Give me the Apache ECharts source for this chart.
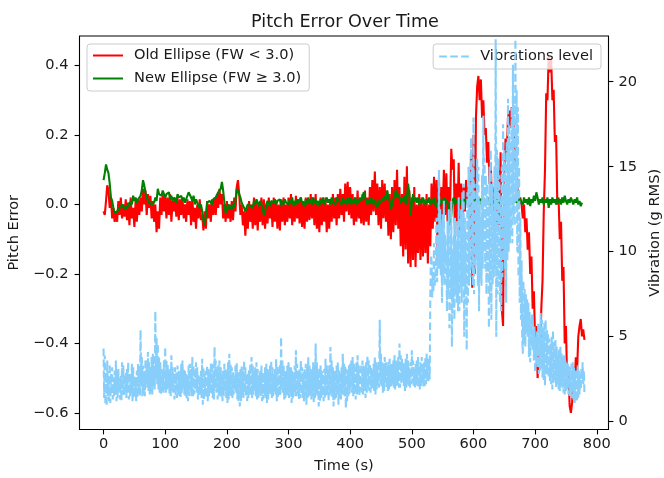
<!DOCTYPE html>
<html>
<head>
<meta charset="utf-8">
<script src="https://cdn.jsdelivr.net/npm/echarts@6/dist/echarts.min.js"></script>
<style>
  html, body { margin: 0; padding: 0; background: #ffffff; }
  #chart { width: 664px; height: 478px; }
</style>
</head>
<body>
<div id="chart"></div>
<script>
// Sampling intervals of the logged traces, in seconds
const PITCH_STEP = 2;
const VIBRATION_STEP = 1;

// Pitch error, old ellipse fit (FW < 3.0), one value every PITCH_STEP seconds from t = 0
const oldEllipse = [
  -0.02, -0.03, 0.01, 0.055, 0.04, -0.01, 0.02, -0.04, -0.01, -0.05,        // 0 s
  -0.02, -0.05, 0.01, -0.03, 0.02, -0.04, 0.0, -0.035, 0.015, -0.045,       // 20 s
  0.0, -0.06, 0.02, -0.04, -0.01, -0.065, 0.01, -0.05, 0.015, -0.03,        // 40 s
  0.02, -0.02, 0.045, 0.0, 0.04, -0.03, 0.03, -0.01, 0.025, -0.04,          // 60 s
  0.01, -0.05, 0.0, -0.08, -0.02, -0.07, 0.02, -0.03, 0.03, -0.02,          // 80 s
  0.025, -0.04, 0.02, -0.03, 0.03, -0.05, 0.01, -0.02, 0.02, -0.035,        // 100 s
  0.02, -0.045, 0.015, -0.03, 0.02, -0.04, 0.0, -0.05, 0.015, -0.03,        // 120 s
  0.01, -0.06, 0.02, -0.05, -0.01, -0.07, 0.0, -0.04, 0.015, -0.045,        // 140 s
  -0.03, -0.075, -0.02, -0.07, 0.01, -0.04, 0.0, -0.05, 0.015, -0.03,       // 160 s
  0.02, -0.03, 0.03, -0.01, 0.045, 0.0, 0.03, -0.04, 0.0, -0.05,            // 180 s
  0.01, -0.04, 0.0, -0.05, 0.01, -0.045, 0.02, -0.02, 0.05, 0.07,           // 200 s
  0.03, -0.03, 0.0, -0.06, -0.02, -0.09, -0.01, -0.07, 0.01, -0.05,         // 220 s
  0.0, -0.07, 0.02, -0.06, 0.01, -0.075, 0.0, -0.05, 0.02, -0.06,           // 240 s
  0.015, -0.07, 0.0, -0.055, 0.02, -0.04, 0.01, -0.065, 0.02, -0.05,        // 260 s
  0.01, -0.07, 0.0, -0.075, 0.015, -0.05, 0.02, -0.06, 0.0, -0.05,          // 280 s
  0.02, -0.04, 0.03, -0.06, 0.01, -0.05, 0.025, -0.04, 0.015, -0.055,       // 300 s
  0.02, -0.065, 0.01, -0.07, 0.02, -0.05, 0.015, -0.045, 0.03, -0.04,       // 320 s
  0.02, -0.06, 0.03, -0.07, 0.0, -0.08, 0.02, -0.06, 0.01, -0.05,           // 340 s
  0.02, -0.08, 0.0, -0.07, 0.015, -0.05, 0.03, -0.04, 0.02, -0.06,          // 360 s
  0.03, -0.04, 0.045, -0.03, 0.03, -0.05, 0.06, -0.02, 0.065, -0.03,        // 380 s
  0.05, -0.04, 0.03, -0.06, 0.02, -0.05, 0.04, -0.04, 0.01, -0.055,         // 400 s
  0.03, -0.06, 0.04, -0.05, 0.02, -0.06, 0.05, -0.03, 0.07, -0.02,          // 420 s
  0.095, -0.03, 0.06, -0.06, 0.05, -0.07, 0.07, -0.04, 0.06, -0.05,         // 440 s
  0.04, -0.09, 0.03, -0.1, 0.05, -0.08, 0.07, -0.06, 0.1, -0.07,            // 460 s
  0.05, -0.12, 0.03, -0.15, 0.08, -0.13, 0.11, -0.17, 0.04, -0.18,          // 480 s
  0.02, -0.16, 0.05, -0.18, 0.0, -0.14, 0.03, -0.16, 0.02, -0.15,           // 500 s
  0.01, -0.14, 0.03, -0.17, 0.0, -0.12, 0.06, -0.07, 0.08, -0.05,           // 520 s
  0.07, -0.17, 0.08, -0.1, 0.05, -0.04, 0.1, -0.03, 0.09, -0.05,            // 540 s
  0.05, -0.02, 0.16, 0.1, 0.13, -0.1, 0.06, -0.05, 0.12, -0.08,             // 560 s
  0.06, -0.06, 0.05, -0.02, 0.07, 0.0, 0.05, -0.1, 0.15, -0.24,             // 580 s
  0.2, -0.2, 0.25, 0.34, 0.37, 0.3, 0.36, 0.25, 0.3, 0.2,                   // 600 s
  0.22, 0.12, 0.18, 0.06, 0.12, 0.0, 0.05, -0.05, 0.02, -0.07,              // 620 s
  0.1, -0.06, 0.15, -0.3, -0.35, 0.1, 0.19, 0.15, 0.25, 0.27,               // 640 s
  0.22, 0.28, 0.26, 0.2, 0.12, 0.1, 0.03, 0.0, 0.02, 0.0,                   // 660 s
  -0.04, 0.0, -0.08, -0.04, -0.13, -0.08, -0.2, -0.15, -0.3, -0.25,         // 680 s
  -0.4, -0.35, -0.5, -0.42, -0.45, -0.3, -0.22, -0.02, 0.1, 0.32,           // 700 s
  0.3, 0.43, 0.38, 0.42, 0.3, 0.33, 0.18, 0.2, 0.0, 0.02,                   // 720 s
  -0.1, -0.05, -0.22, -0.18, -0.4, -0.35, -0.52, -0.48, -0.58, -0.6,        // 740 s
  -0.57, -0.5, -0.52, -0.44, -0.48, -0.38, -0.35, -0.33, -0.38, -0.36,      // 760 s
  -0.39                                                                      // 780 s
];

// Pitch error, new ellipse fit (FW >= 3.0)
const newEllipse = [
  0.07, 0.09, 0.115, 0.1, 0.09, 0.06, 0.02, 0.01, -0.01, -0.025,            // 0 s
  -0.03, -0.02, -0.025, -0.01, -0.015, 0.0, -0.005, -0.015, -0.005, -0.015, // 20 s
  0.005, -0.005, 0.01, 0.0, 0.025, 0.01, 0.02, 0.005, 0.015, 0.01,          // 40 s
  0.025, 0.04, 0.07, 0.055, 0.035, 0.02, 0.015, 0.005, 0.01, 0.0,           // 60 s
  -0.005, 0.005, 0.02, 0.01, 0.045, 0.03, 0.035, 0.025, 0.04, 0.03,         // 80 s
  0.02, 0.03, 0.025, 0.035, 0.015, 0.025, 0.01, 0.02, 0.015, 0.005,         // 100 s
  0.03, 0.02, 0.015, 0.025, 0.01, 0.02, 0.005, 0.015, 0.025, 0.035,         // 120 s
  0.03, 0.02, 0.01, 0.025, 0.0, 0.015, 0.005, 0.01, -0.01, 0.0,             // 140 s
  -0.02, -0.045, -0.06, -0.03, 0.005, 0.0, 0.01, 0.005, 0.0, 0.015,         // 160 s
  0.01, 0.02, 0.025, 0.035, 0.03, 0.045, 0.065, 0.04, 0.005, -0.025,        // 180 s
  -0.01, 0.0, -0.015, -0.005, -0.015, 0.0, -0.01, 0.01, 0.045, 0.05,        // 200 s
  0.03, 0.02, 0.005, 0.0, -0.01, -0.02, -0.015, 0.0, 0.005, -0.005,         // 220 s
  0.0, -0.01, 0.01, 0.0, 0.015, 0.005, -0.005, 0.01, 0.0, -0.01,            // 240 s
  -0.03, -0.02, 0.0, 0.01, 0.005, -0.005, 0.01, 0.015, 0.005, 0.015,        // 260 s
  0.0, 0.01, 0.005, 0.015, -0.005, 0.01, 0.0, 0.015, 0.005, 0.01,           // 280 s
  0.0, 0.015, 0.005, 0.02, -0.005, 0.01, 0.0, 0.015, 0.005, 0.01,           // 300 s
  0.02, 0.005, 0.01, -0.005, 0.015, 0.0, 0.02, 0.005, 0.015, 0.0,           // 320 s
  0.02, 0.005, 0.015, 0.0, 0.01, -0.005, 0.015, 0.005, 0.02, 0.0,           // 340 s
  0.01, 0.02, 0.005, 0.015, 0.0, 0.02, 0.005, 0.01, 0.0, 0.02,              // 360 s
  0.025, 0.01, 0.015, 0.0, 0.02, 0.005, 0.015, 0.0, 0.02, 0.005,            // 380 s
  0.02, 0.0, 0.015, 0.005, 0.02, 0.0, 0.015, 0.005, 0.02, 0.01,             // 400 s
  0.015, 0.035, 0.02, 0.01, 0.0, 0.015, 0.005, 0.02, 0.01, 0.0,             // 420 s
  0.015, 0.0, -0.01, 0.01, 0.015, 0.005, 0.02, 0.01, 0.025, 0.015,          // 440 s
  0.04, 0.02, 0.01, -0.015, 0.0, 0.015, 0.01, 0.04, 0.02, 0.03,             // 460 s
  0.02, 0.005, 0.02, 0.01, 0.025, 0.0, 0.015, 0.06, 0.03, -0.03,            // 480 s
  0.0, 0.03, 0.01, 0.02, 0.005, 0.02, 0.0, 0.015, 0.005, 0.02,              // 500 s
  0.01, 0.0, 0.015, 0.005, 0.02, 0.0, 0.015, 0.005, 0.02, 0.0,              // 520 s
  -0.01, 0.01, 0.02, 0.0, 0.015, 0.005, 0.02, 0.0, 0.015, 0.005,            // 540 s
  -0.02, -0.06, -0.03, 0.01, 0.02, 0.0, 0.015, 0.005, 0.02, 0.0,            // 560 s
  0.015, 0.005, 0.02, 0.0, 0.015, 0.005, 0.02, 0.0, 0.015, 0.01,            // 580 s
  0.02, -0.01, 0.015, 0.005, 0.02, 0.0, 0.015, 0.01, 0.02, 0.0,             // 600 s
  0.015, 0.005, 0.02, 0.01, 0.0, 0.015, 0.005, 0.02, 0.0, 0.015,            // 620 s
  0.005, 0.02, 0.0, 0.015, 0.01, 0.02, 0.0, 0.015, 0.005, 0.02,             // 640 s
  0.01, 0.0, 0.015, 0.02, 0.005, 0.015, 0.0, 0.02, 0.01, 0.015,             // 660 s
  0.0, 0.02, 0.005, 0.015, 0.0, 0.02, -0.005, 0.015, 0.005, 0.025,          // 680 s
  0.01, 0.035, 0.02, 0.0, 0.015, 0.005, 0.02, 0.0, 0.015, 0.005,            // 700 s
  0.02, -0.01, 0.015, 0.0, 0.02, 0.005, 0.015, 0.0, 0.02, 0.005,            // 720 s
  0.015, 0.0, 0.02, 0.005, 0.025, 0.01, 0.0, 0.015, 0.005, 0.02,            // 740 s
  0.01, 0.0, 0.015, 0.005, 0.02, 0.0, 0.01, -0.005, 0.005                   // 760 s
];

// Vibration level in g RMS, one value every VIBRATION_STEP seconds from t = 0
const vibration = [
  4.3, 1.4, 3.9, 1.0, 2.9, 0.9, 3.6, 1.5, 2.7, 1.2, 3.4, 1.1, 2.8, 1.6, 3.2, 1.3, 2.6, 1.5, 3.0, 1.6,             // 0 s
  3.6, 1.2, 3.0, 1.4, 3.1, 1.8, 2.6, 1.3, 2.7, 1.2, 3.5, 1.6, 3.3, 1.5, 2.8, 1.9, 2.9, 1.4, 3.2, 1.7,             // 20 s
  3.5, 1.3, 2.9, 1.5, 2.8, 1.6, 3.4, 1.2, 3.2, 1.4, 2.7, 1.5, 2.6, 1.2, 3.0, 1.4, 3.4, 1.6, 2.9, 1.5,             // 40 s
  5.4, 2.1, 3.9, 1.5, 3.3, 1.6, 3.0, 1.5, 3.7, 2.2, 3.4, 2.0, 4.1, 1.8, 3.5, 1.6, 3.2, 1.7, 3.8, 1.6,             // 60 s
  4.0, 2.1, 3.3, 1.9, 6.5, 2.5, 5.0, 2.2, 4.6, 1.9, 3.8, 1.7, 3.5, 1.6, 3.1, 1.8, 3.0, 1.7, 3.6, 1.8,             // 80 s
  4.4, 1.7, 3.6, 1.9, 3.4, 2.0, 3.0, 1.6, 3.1, 1.5, 3.9, 1.8, 3.3, 1.7, 2.8, 1.3, 3.2, 1.5, 2.9, 1.4,             // 100 s
  3.3, 1.6, 3.0, 1.5, 2.9, 1.4, 3.4, 1.7, 3.6, 2.0, 3.1, 1.6, 3.0, 1.5, 2.8, 1.3, 2.7, 1.2, 3.3, 1.5,             // 120 s
  3.4, 1.7, 3.1, 1.5, 3.8, 1.4, 3.3, 1.6, 2.9, 1.9, 3.5, 1.7, 3.2, 1.3, 2.8, 1.5, 2.6, 1.6, 3.0, 1.4,             // 140 s
  3.7, 1.0, 3.2, 1.3, 2.8, 1.5, 3.0, 1.4, 3.3, 1.2, 3.1, 1.5, 2.9, 1.7, 3.4, 1.6, 3.5, 1.4, 3.0, 1.3,             // 160 s
  4.4, 1.9, 3.6, 1.7, 3.1, 1.3, 3.3, 1.5, 3.6, 1.6, 3.2, 1.4, 2.8, 1.2, 3.0, 1.5, 3.4, 1.8, 3.1, 1.4,             // 180 s
  3.0, 1.1, 3.5, 1.3, 4.0, 1.6, 3.4, 1.5, 3.2, 1.4, 2.9, 1.6, 2.7, 1.9, 3.3, 1.7, 3.5, 1.3, 3.0, 1.2,             // 200 s
  2.9, 0.9, 3.1, 1.2, 3.3, 1.5, 3.0, 1.4, 3.6, 1.7, 3.2, 1.5, 2.8, 1.2, 2.9, 1.4, 3.1, 1.6, 3.4, 1.5,             // 220 s
  3.8, 1.4, 3.3, 1.6, 3.0, 1.9, 3.2, 1.5, 3.5, 1.3, 3.1, 1.4, 2.7, 1.6, 3.0, 1.5, 3.3, 1.2, 2.9, 1.3,             // 240 s
  2.9, 1.5, 3.2, 1.4, 3.4, 1.1, 3.1, 1.3, 3.0, 1.7, 3.3, 1.6, 3.6, 1.4, 3.2, 1.5, 2.8, 1.8, 3.1, 1.6,             // 260 s
  3.7, 1.2, 3.3, 1.4, 3.1, 1.5, 3.4, 1.6, 5.0, 1.9, 3.6, 1.7, 3.4, 1.3, 3.0, 1.4, 2.9, 1.6, 3.3, 1.5,             // 280 s
  3.5, 1.4, 3.2, 1.6, 3.2, 1.1, 3.0, 1.3, 2.8, 1.7, 3.3, 1.5, 4.2, 1.5, 3.4, 1.6, 3.0, 1.3, 3.1, 1.4,             // 300 s
  3.6, 1.6, 3.2, 1.4, 2.9, 1.2, 3.1, 1.5, 3.4, 1.0, 3.2, 1.4, 3.8, 1.5, 3.3, 1.6, 3.1, 1.3, 3.0, 1.5,             // 320 s
  3.5, 1.1, 3.3, 1.4, 4.6, 1.6, 3.5, 1.5, 3.0, 0.9, 3.2, 1.2, 3.3, 1.4, 3.0, 1.5, 2.8, 1.2, 3.1, 1.4,             // 340 s
  3.7, 1.5, 3.4, 1.6, 3.1, 1.2, 3.3, 1.5, 4.4, 1.7, 3.6, 1.4, 3.2, 0.9, 3.0, 1.3, 3.0, 1.4, 3.3, 1.6,             // 360 s
  3.5, 1.0, 3.1, 1.4, 2.9, 1.3, 3.2, 1.5, 4.0, 1.6, 3.4, 1.5, 3.3, 0.8, 3.1, 1.2, 3.0, 1.5, 3.3, 1.6,             // 380 s
  3.4, 1.9, 3.6, 1.7, 3.8, 1.5, 3.4, 1.6, 3.2, 1.3, 3.5, 1.6, 3.9, 1.7, 3.3, 1.5, 3.1, 1.8, 3.4, 1.7,             // 400 s
  3.6, 1.6, 3.3, 1.8, 3.2, 1.4, 3.5, 1.7, 3.9, 1.9, 3.6, 1.8, 3.4, 1.7, 3.2, 1.9, 3.0, 2.0, 3.4, 1.8,             // 420 s
  3.8, 1.6, 3.5, 1.9, 3.3, 2.1, 3.6, 2.0, 6.0, 2.2, 4.0, 2.1, 3.5, 1.7, 3.4, 1.8, 3.8, 2.3, 3.5, 2.0,             // 440 s
  3.3, 1.8, 3.6, 1.9, 3.7, 2.0, 3.4, 2.1, 3.4, 2.2, 3.6, 2.0, 3.9, 1.9, 3.6, 2.1, 3.5, 2.1, 3.8, 2.0,             // 460 s
  4.6, 2.0, 3.9, 2.2, 3.7, 2.4, 3.5, 2.1, 3.4, 1.8, 3.7, 2.0, 4.0, 2.2, 3.6, 2.1, 3.2, 2.0, 3.5, 2.2,             // 480 s
  4.2, 2.3, 3.6, 2.1, 3.1, 2.0, 3.4, 2.2, 3.6, 2.1, 3.8, 2.0, 3.3, 1.9, 3.5, 2.1, 3.8, 2.2, 3.4, 2.0,             // 500 s
  3.5, 2.1, 3.8, 2.2, 4.0, 2.4, 3.7, 2.3, 3.6, 2.5, 7.4, 9.8, 9.5, 7.3, 8.8, 7.6, 10.5, 8.0, 8.5, 9.2,            // 520 s
  12.0, 8.2, 11.0, 9.0, 14.8, 9.0, 12.5, 8.6, 11.5, 7.0, 12.2, 8.5, 13.0, 8.0, 11.0, 9.2, 10.0, 6.5, 11.8, 7.5,   // 540 s
  12.5, 5.5, 11.0, 7.2, 13.0, 4.4, 10.0, 6.8, 11.0, 6.0, 12.0, 7.5, 10.5, 7.0, 11.8, 6.5, 13.2, 6.5, 12.0, 8.0,   // 560 s
  12.5, 7.0, 13.5, 8.0, 14.0, 5.0, 12.0, 7.5, 11.0, 4.2, 13.5, 7.0, 15.0, 8.0, 14.0, 8.5, 16.7, 9.0, 15.0, 8.0,   // 580 s
  17.9, 7.5, 14.0, 9.0, 13.0, 9.5, 15.5, 8.0, 15.0, 6.5, 13.0, 8.5, 12.0, 8.0, 14.5, 9.0, 18.0, 10.0, 15.5, 9.0,  // 600 s
  14.5, 7.5, 14.0, 8.5, 13.0, 5.5, 15.0, 7.0, 16.0, 6.0, 14.0, 8.0, 12.5, 8.5, 15.0, 9.0, 22.5, 5.0, 16.0, 7.5,   // 620 s
  15.5, 8.0, 14.5, 7.0, 13.0, 6.5, 15.0, 8.5, 17.5, 9.5, 16.0, 9.0, 14.0, 7.0, 16.5, 9.5, 19.0, 10.0, 17.5, 10.5, // 640 s
  16.5, 11.0, 18.5, 10.5, 21.0, 12.0, 19.0, 11.5, 22.5, 13.0, 19.5, 10.0, 18.5, 8.5, 15.0, 7.0, 12.0, 6.0, 9.5, 5.0, // 660 s
  4.0, 8.3, 4.6, 7.8, 4.4, 7.5, 5.2, 7.2, 5.0, 7.0, 3.8, 6.5, 3.5, 6.0, 4.4, 6.3, 4.2, 5.4, 3.6, 5.6,             // 680 s
  2.9, 5.0, 3.4, 5.3, 3.2, 5.8, 2.8, 5.5, 3.0, 6.4, 3.1, 6.0, 2.6, 5.5, 2.4, 5.8, 2.1, 6.0, 2.7, 5.4,             // 700 s
  2.8, 5.2, 2.6, 4.9, 2.4, 4.6, 2.2, 5.0, 1.9, 5.4, 2.3, 4.7, 2.4, 4.8, 2.0, 4.4, 2.2, 4.0, 1.9, 4.3,             // 720 s
  1.8, 4.4, 2.1, 4.0, 2.0, 3.8, 1.7, 3.9, 1.6, 3.6, 1.8, 3.5, 1.9, 3.4, 1.6, 3.3, 1.5, 3.2, 1.7, 3.4,             // 740 s
  1.4, 3.5, 1.3, 3.2, 1.1, 3.0, 1.2, 3.1, 1.2, 3.3, 1.4, 3.0, 1.6, 2.8, 1.9, 3.2, 2.5, 3.5, 2.2, 3.0,             // 760 s
  1.6                                                                                                              // 780 s
];

// Axis ticks
const timeTicks = [0, 100, 200, 300, 400, 500, 600, 700, 800];
const pitchTicks = [-0.6, -0.4, -0.2, 0.0, 0.2, 0.4];
const vibrationTicks = [0, 5, 10, 15, 20];

const FONT = 'DejaVu Sans';
const TEXT = '#1a1a1a';
const FONT_SIZE = 14.6;
const LINE_WIDTH = 2.1;

function toPairs(values, step) {
  return values.map((v, i) => [i * step, v]);
}

function pitchLabel(v) {
  const s = Math.abs(v).toFixed(1);
  return v < 0 ? '\u2212' + s : s;
}

const tickStyle = { show: true, inside: false, length: 4.9, lineStyle: { color: '#000', width: 1.1 } };
const labelStyle = { color: TEXT, fontFamily: FONT, fontSize: FONT_SIZE };
const legendBase = {
  orient: 'vertical',
  top: 44,
  itemWidth: 30, itemHeight: 14,
  backgroundColor: 'rgba(255,255,255,0.8)',
  borderColor: '#cccccc', borderWidth: 1, borderRadius: 3,
  itemStyle: { opacity: 0 },
  textStyle: { color: TEXT, fontFamily: FONT, fontSize: FONT_SIZE, padding: [0, 0, 0, 6] },
  selectedMode: false
};

const chart = echarts.init(document.getElementById('chart'), null, { renderer: 'canvas' });

chart.setOption({
  animation: false,
  backgroundColor: '#ffffff',
  title: {
    text: 'Pitch Error Over Time',
    left: 340,
    textAlign: 'center',
    top: 8,
    textStyle: { color: TEXT, fontFamily: FONT, fontSize: 17.6, fontWeight: 'normal' }
  },
  grid: {
    left: 79.5, right: 55.5, top: 36, bottom: 48.5,
    outerBoundsMode: 'none',
    containLabel: false,
    show: true, borderColor: '#000', borderWidth: 1.1, backgroundColor: 'transparent'
  },
  legend: [
    Object.assign({}, legendBase, {
      data: ['Old Ellipse (FW < 3.0)', 'New Ellipse (FW \u2265 3.0)'],
      left: 87,
      itemGap: 8,
      padding: [4, 8, 5, 5]
    }),
    Object.assign({}, legendBase, {
      data: ['Vibrations level'],
      right: 63,
      padding: [5, 8, 5, 5]
    })
  ],
  xAxis: {
    type: 'value',
    min: -39, max: 819,
    name: 'Time (s)',
    nameLocation: 'middle',
    nameGap: 29,
    nameTextStyle: { color: TEXT, fontFamily: FONT, fontSize: FONT_SIZE },
    axisLine: { show: false, onZero: false },
    axisTick: Object.assign({ customValues: timeTicks }, tickStyle),
    axisLabel: Object.assign({ customValues: timeTicks, margin: 7 }, labelStyle),
    splitLine: { show: false }
  },
  yAxis: [
    {
      type: 'value',
      position: 'left',
      min: -0.648, max: 0.485,
      name: 'Pitch Error',
      nameLocation: 'middle',
      nameRotate: 90,
      nameGap: 47,
      nameTextStyle: { color: TEXT, fontFamily: FONT, fontSize: FONT_SIZE },
      axisLine: { show: false, onZero: false },
      axisTick: Object.assign({ customValues: pitchTicks }, tickStyle),
      axisLabel: Object.assign({ customValues: pitchTicks, margin: 11, formatter: pitchLabel }, labelStyle),
      splitLine: { show: false }
    },
    {
      type: 'value',
      position: 'right',
      min: -0.46, max: 22.69,
      name: 'Vibration (g RMS)',
      nameLocation: 'middle',
      nameRotate: 90,
      nameGap: 30,
      nameTextStyle: { color: TEXT, fontFamily: FONT, fontSize: FONT_SIZE },
      axisLine: { show: false, onZero: false },
      axisTick: Object.assign({ customValues: vibrationTicks }, tickStyle),
      axisLabel: Object.assign({ customValues: vibrationTicks, margin: 10 }, labelStyle),
      splitLine: { show: false }
    }
  ],
  series: [
    {
      name: 'Old Ellipse (FW < 3.0)',
      type: 'line',
      yAxisIndex: 0,
      data: toPairs(oldEllipse, PITCH_STEP),
      symbol: 'none',
      silent: true,
      itemStyle: { color: '#ff0000' },
      lineStyle: { color: '#ff0000', width: LINE_WIDTH },
      z: 2
    },
    {
      name: 'New Ellipse (FW \u2265 3.0)',
      type: 'line',
      yAxisIndex: 0,
      data: toPairs(newEllipse, PITCH_STEP),
      symbol: 'none',
      silent: true,
      itemStyle: { color: '#008000' },
      lineStyle: { color: '#008000', width: LINE_WIDTH },
      z: 3
    },
    {
      name: 'Vibrations level',
      type: 'line',
      yAxisIndex: 1,
      data: toPairs(vibration, VIBRATION_STEP),
      symbol: 'none',
      silent: true,
      itemStyle: { color: '#87cefa' },
      lineStyle: { color: '#87cefa', width: LINE_WIDTH, type: [7.7, 3.3] },
      z: 4
    }
  ]
});
</script>
</body>
</html>
